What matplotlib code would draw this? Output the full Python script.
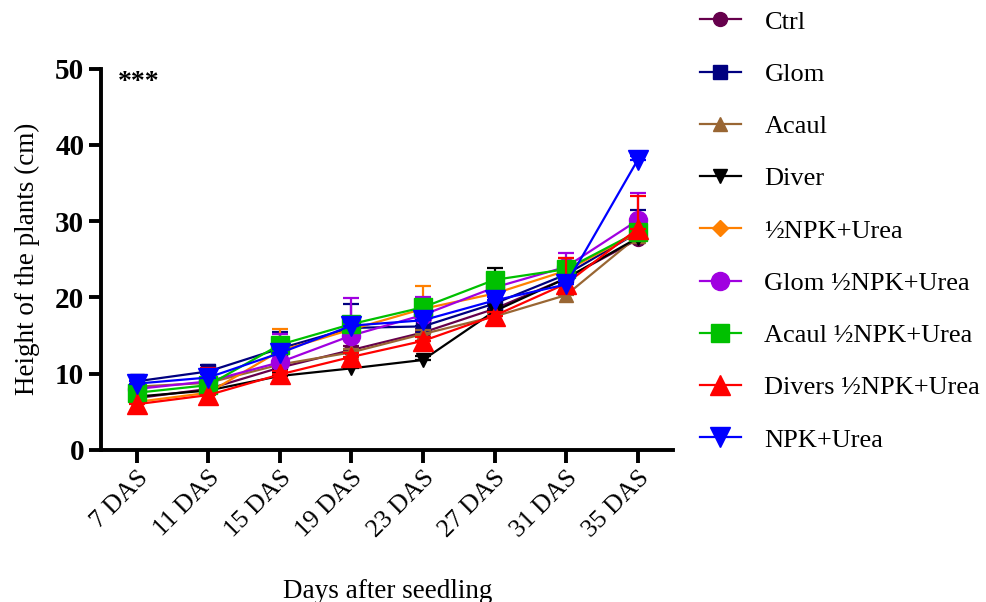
import matplotlib
matplotlib.use("Agg")
import matplotlib.pyplot as plt
from matplotlib.lines import Line2D
import numpy as np

plt.rcParams['font.family'] = ['Liberation Serif', 'DejaVu Serif']

days = ["7 DAS", "11 DAS", "15 DAS", "19 DAS", "23 DAS", "27 DAS", "31 DAS", "35 DAS"]

names = ["Ctrl", "Glom", "Acaul", "Diver", "½NPK+Urea", "Glom ½NPK+Urea",
         "Acaul ½NPK+Urea", "Divers ½NPK+Urea", "NPK+Urea"]

ctrl     = [6.8, 8.0, 10.8, 13.1, 15.4, 18.5, 22.5, 27.6]
glom     = [9.0, 10.3, 13.3, 16.0, 16.2, 19.2, 23.0, 28.5]
acaul    = [8.3, 8.8, 11.2, 12.8, 15.2, 17.5, 20.3, 28.0]
diver    = [7.0, 7.8, 9.7, 10.7, 11.8, 18.2, 22.5, 27.8]
half_npk = [6.3, 7.5, 13.0, 15.8, 18.5, 20.5, 23.5, 28.5]
glom_h   = [8.0, 9.0, 11.5, 15.0, 17.7, 21.3, 24.0, 30.1]
acaul_h  = [7.5, 8.5, 13.8, 16.5, 18.7, 22.3, 23.7, 28.6]
divers_h = [6.0, 7.2, 9.9, 12.2, 14.3, 17.6, 21.8, 29.0]
npk      = [8.7, 9.5, 12.7, 16.3, 17.0, 19.6, 21.7, 38.0]

ctrl_err     = [0.4, 0.5, 0.5, 0.5, 0.5, 0.5, 0.5, 0.5]
glom_err     = [0.5, 0.9, 2.1, 3.1, 2.3, 2.0, 0.8, 2.9]
acaul_err    = [0.4, 0.5, 0.5, 0.5, 0.5, 0.5, 0.5, 0.5]
diver_err    = [0.4, 0.5, 0.5, 0.5, 0.5, 5.7, 0.5, 0.5]
half_npk_err = [0.4, 0.5, 2.9, 0.5, 3.0, 0.5, 1.7, 0.5]
glom_h_err   = [0.4, 0.5, 3.7, 4.9, 2.4, 0.5, 1.8, 3.6]
acaul_h_err  = [0.4, 0.5, 0.5, 0.5, 0.5, 0.5, 0.5, 0.5]
divers_h_err = [3.6, 3.6, 0.5, 0.5, 0.5, 0.5, 3.4, 4.3]
npk_err      = [0.4, 0.5, 0.5, 0.5, 0.5, 0.5, 0.5, 0.5]

series = [ctrl, glom, acaul, diver, half_npk, glom_h, acaul_h, divers_h, npk]
errors = [ctrl_err, glom_err, acaul_err, diver_err, half_npk_err, glom_h_err,
          acaul_h_err, divers_h_err, npk_err]
colors = ["#66004C", "#000080", "#996633", "#000000", "#FF8000", "#A000E0",
          "#00C000", "#FF0000", "#0000FF"]
markers = ["o", "s", "^", "v", "D", "o", "s", "^", "v"]
msizes = [10, 10, 10, 10, 8, 13, 13, 15, 15]

fig = plt.figure(figsize=(9.87, 6.02), dpi=100)
ax = fig.add_axes([0.1023, 0.2525, 0.580, 0.6337])

x = np.arange(len(days))
handles = []
for i, (vals, err) in enumerate(zip(series, errors)):
    ax.errorbar(x, vals, yerr=[np.zeros(len(err)), err], color=colors[i],
                marker=markers[i], markersize=msizes[i], markeredgecolor=colors[i],
                markerfacecolor=colors[i], linewidth=1.6, elinewidth=1.6,
                capsize=6, capthick=1.6, zorder=2 + i)
    handles.append(Line2D([], [], color=colors[i], marker=markers[i],
                          markersize=msizes[i], markeredgecolor=colors[i],
                          markerfacecolor=colors[i], linewidth=1.6, label=names[i]))

ax.set_xlim(-0.5, 7.5)
ax.set_ylim(0, 50)
ax.set_yticks([0, 10, 20, 30, 40, 50])
ax.set_xticks(x)
ax.set_xticklabels(days, rotation=45, ha='right', rotation_mode='anchor', fontsize=18.5)
for lab in ax.get_yticklabels():
    lab.set_fontweight('bold')
    lab.set_fontsize(21)

for s in ['top', 'right']:
    ax.spines[s].set_visible(False)
for s in ['left', 'bottom']:
    ax.spines[s].set_linewidth(2.8)
ax.tick_params(axis='both', width=2.8, length=9, direction='out', pad=3)

ax.set_ylabel("Height of the plants (cm)", fontsize=19.5, labelpad=11)
ax.set_xlabel("Days after seedling", fontsize=19.5, labelpad=27)

ax.text(0.03, 0.995, "***", transform=ax.transAxes, fontsize=20, fontweight='bold',
        va='top', ha='left')

leg = fig.legend(handles=handles, loc='upper left', bbox_to_anchor=(0.709, 0.983),
                 frameon=False, fontsize=19, handlelength=1.55, handletextpad=0.9,
                 labelspacing=1.09, borderpad=0, borderaxespad=0)

fig.savefig("out.png", dpi=100)
